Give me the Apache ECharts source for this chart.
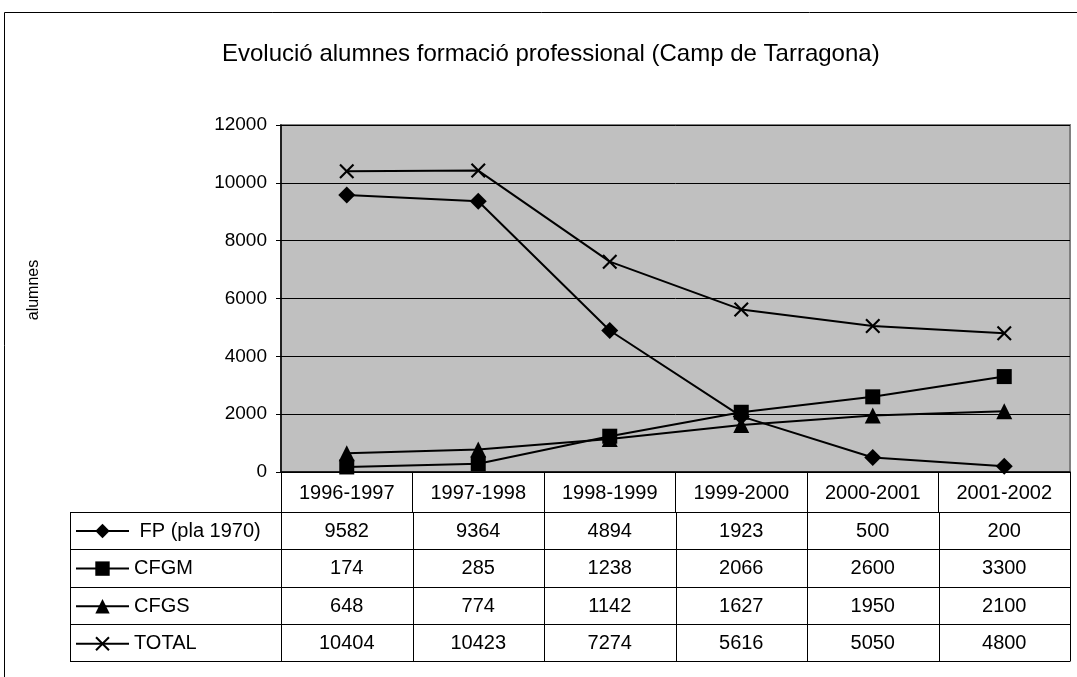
<!DOCTYPE html>
<html>
<head>
<meta charset="utf-8">
<script src="https://cdn.jsdelivr.net/npm/echarts@6/dist/echarts.min.js"></script>
<style>
  html, body { margin: 0; padding: 0; background: #fff; }
  #chart { width: 1077px; height: 677px; }
</style>
</head>
<body>
<div id="chart"></div>
<script>
const categories = ['1996-1997', '1997-1998', '1998-1999', '1999-2000', '2000-2001', '2001-2002'];
const fpValues = [9582, 9364, 4894, 1923, 500, 200];
const cfgmValues = [174, 285, 1238, 2066, 2600, 3300];
const cfgsValues = [648, 774, 1142, 1627, 1950, 2100];
const totalValues = [10404, 10423, 7274, 5616, 5050, 4800];
const seriesNames = ['FP (pla 1970)', 'CFGM', 'CFGS', 'TOTAL'];
const yTicks = [0, 2000, 4000, 6000, 8000, 10000, 12000];

const crossPath = 'path://M0,1L1,0L5,4L9,0L10,1L6,5L10,9L9,10L5,6L1,10L0,9L4,5Z';
const FONT = 'Liberation Sans, Arial, sans-serif';

const chart = echarts.init(document.getElementById('chart'));

function lineSeries(name, data, symbol, size) {
  return {
    name,
    type: 'line',
    data,
    symbol,
    symbolSize: size,
    showSymbol: true,
    lineStyle: { color: '#000', width: 2 },
    itemStyle: { color: '#000' },
    animation: false,
    z: 5
  };
}

const option = {
  animation: false,
  title: {
    text: 'Evolució alumnes formació professional (Camp de Tarragona)',
    left: 217,
    top: 37,
    textStyle: { fontFamily: FONT, fontSize: 24, fontWeight: 'normal', color: '#000' }
  },
  grid: {
    left: 281, right: 7, top: 125, bottom: 205,
    show: true,
    backgroundColor: '#C0C0C0',
    borderColor: '#808080',
    borderWidth: 2
  },
  legend: {
    orient: 'vertical',
    left: 70,
    top: 516,
    itemWidth: 53,
    itemHeight: 18,
    itemGap: 17.6,
    selectedMode: false,
    formatter: name => name === seriesNames[0] ? ' ' + name : name,
    textStyle: { fontFamily: FONT, fontSize: 20, color: '#000' },
    data: seriesNames
  },
  xAxis: {
    type: 'category',
    data: categories,
    boundaryGap: true,
    axisLine: { lineStyle: { color: '#000', width: 1.5 } },
    axisTick: { show: true, length: 40, inside: false, lineStyle: { color: '#000' } },
    axisLabel: { margin: 11, fontFamily: FONT, fontSize: 20, color: '#000' },
    splitLine: { show: false }
  },
  yAxis: {
    type: 'value',
    min: yTicks[0],
    max: yTicks[yTicks.length - 1],
    interval: 2000,
    axisLine: { show: true, lineStyle: { color: '#000', width: 1.5 } },
    axisTick: { show: true, length: 5, lineStyle: { color: '#000' } },
    axisLabel: { margin: 14, fontFamily: FONT, fontSize: 19, color: '#000', formatter: v => String(v) },
    splitLine: { show: true, lineStyle: { color: '#000', width: 1 } }
  },
  series: [
    lineSeries(seriesNames[0], fpValues, 'diamond', 17),
    lineSeries(seriesNames[1], cfgmValues, 'rect', 15),
    lineSeries(seriesNames[2], cfgsValues, 'triangle', 16),
    lineSeries(seriesNames[3], totalValues, crossPath, 15)
  ]
};

chart.setOption(option);

// data table under the plot, built from the same arrays
function buildTable() {
  const rows = [fpValues, cfgmValues, cfgsValues, totalValues];
  const centers = categories.map(c => chart.convertToPixel({ xAxisIndex: 0 }, c));
  const half = (centers[1] - centers[0]) / 2;
  const xLeft = centers[0] - half;
  const xRight = centers[centers.length - 1] + half;
  const legendLeft = 70;
  const headerBottom = 512;
  const rowH = 37.3;
  const els = [];
  const line = (x1, y1, x2, y2) => els.push({
    type: 'line', silent: true,
    shape: { x1, y1, x2, y2 },
    style: { stroke: '#000', lineWidth: 1 }
  });
  for (let i = 0; i <= rows.length; i++) {
    const y = Math.round(headerBottom + i * rowH) + 0.5;
    line(legendLeft, y, xRight, y);
  }
  const tableBottom = Math.round(headerBottom + rows.length * rowH) + 0.5;
  line(legendLeft + 0.5, headerBottom, legendLeft + 0.5, tableBottom);
  for (let j = 0; j <= categories.length; j++) {
    const x = Math.round(xLeft + j * half * 2) + 0.5;
    line(x, headerBottom, x, tableBottom);
  }
  rows.forEach((vals, i) => {
    const yc = headerBottom + (i + 0.5) * rowH + 1;
    vals.forEach((v, j) => {
      els.push({
        type: 'text', silent: true,
        x: centers[j], y: yc,
        style: {
          text: String(v), fontFamily: FONT, fontSize: 20, fill: '#000',
          align: 'center', verticalAlign: 'middle'
        }
      });
    });
  });
  // y axis name
  els.push({
    type: 'text', silent: true,
    x: 34, y: 290, rotation: Math.PI / 2,
    style: {
      text: 'alumnes', fontFamily: FONT, fontSize: 16, fill: '#000',
      align: 'center', verticalAlign: 'middle'
    }
  });
  // outer frame
  els.push({
    type: 'rect', silent: true,
    shape: { x: 4.5, y: 12.5, width: 1200, height: 800 },
    style: { fill: 'none', stroke: '#000', lineWidth: 1 }
  });
  chart.setOption({ graphic: { elements: els } });
}
buildTable();
</script>
</body>
</html>
